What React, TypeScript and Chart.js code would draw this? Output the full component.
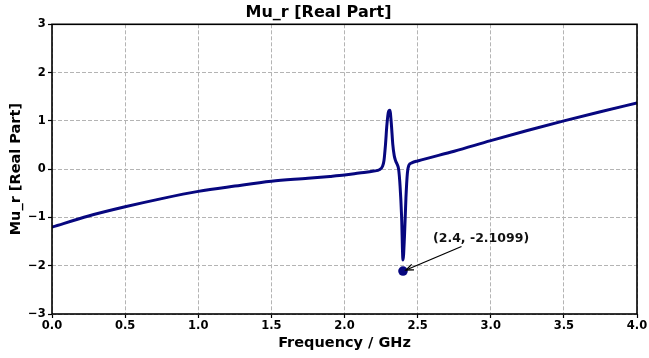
import { useEffect, useRef } from "react";
import { Chart, registerables } from "chart.js";

Chart.register(...registerables);

// Frequency samples (GHz) – denser around the resonance near 2.3–2.45 GHz
const freqGHz = [
  0, 0.25, 0.5, 0.75, 1.0, 1.25, 1.5, 1.75, 1.9, 2.0, 2.1, 2.2, 2.24, 2.26,
  2.27, 2.28, 2.29, 2.3, 2.31, 2.32, 2.33, 2.34, 2.35, 2.36, 2.37, 2.38, 2.39,
  2.4, 2.41, 2.42, 2.43, 2.44, 2.46, 2.5, 2.75, 3.0, 3.25, 3.5, 3.75, 4.0,
];

// Real part of the relative permeability at each frequency
const muReal = [
  -1.2, -0.97, -0.78, -0.61, -0.46, -0.35, -0.25, -0.19, -0.15, -0.12, -0.08,
  -0.04, -0.01, 0.06, 0.18, 0.5, 0.92, 1.18, 1.22, 0.95, 0.52, 0.28, 0.17, 0.1,
  0.0, -0.35, -0.95, -1.88, -1.4, -0.6, -0.08, 0.08, 0.13, 0.17, 0.37, 0.59,
  0.8, 1.0, 1.19, 1.37,
];

// Marked minimum
const peakFreq = 2.4;
const peakValue = -2.1099;
const peakLabel = "(2.4, -2.1099)";

const xTicks = [0, 0.5, 1.0, 1.5, 2.0, 2.5, 3.0, 3.5, 4.0];
const yTicks = [-3, -2, -1, 0, 1, 2, 3];

const FONT = "'DejaVu Sans', sans-serif";
const NAVY = "#07077f";
const GRID = "#b4b4b4";

const framePlugin = {
  id: "frame",
  afterDatasetsDraw(chart: any) {
    const { ctx, chartArea: a } = chart;
    ctx.save();
    ctx.strokeStyle = "#000";
    ctx.lineWidth = 1.6;
    ctx.strokeRect(a.left, a.top, a.right - a.left, a.bottom - a.top);
    ctx.restore();
  },
};

const annotatePlugin = {
  id: "annotate",
  afterDraw(chart: any) {
    const { ctx } = chart;
    const px = chart.scales.x.getPixelForValue(peakFreq);
    const py = chart.scales.y.getPixelForValue(peakValue);
    ctx.save();
    // label
    ctx.font = `bold 12.5px ${FONT}`;
    ctx.fillStyle = "#111";
    ctx.textAlign = "left";
    ctx.textBaseline = "middle";
    ctx.fillText(peakLabel, px + 30, py - 32.5);
    // arrow
    const sx = px + 58.5;
    const sy = py - 24.5;
    const tx = px + 3;
    const ty = py - 1;
    ctx.strokeStyle = "#000";
    ctx.lineWidth = 1.3;
    ctx.beginPath();
    ctx.moveTo(sx, sy);
    ctx.lineTo(tx, ty);
    ctx.stroke();
    const ang = Math.atan2(ty - sy, tx - sx);
    const hl = 8;
    ctx.beginPath();
    ctx.moveTo(tx + hl * Math.cos(ang + Math.PI - 0.38), ty + hl * Math.sin(ang + Math.PI - 0.38));
    ctx.lineTo(tx, ty);
    ctx.lineTo(tx + hl * Math.cos(ang + Math.PI + 0.38), ty + hl * Math.sin(ang + Math.PI + 0.38));
    ctx.stroke();
    ctx.restore();
  },
};

const gridOpts = {
  color: GRID,
  lineWidth: 1,
  drawTicks: true,
  tickLength: 4,
  tickColor: "#000",
  tickWidth: 1.2,
  tickBorderDash: [],
};

export default function App() {
  const canvasRef = useRef<HTMLCanvasElement | null>(null);

  useEffect(() => {
    const canvas = canvasRef.current;
    if (!canvas) return;
    const chart = new Chart(canvas, {
      type: "line",
      data: {
        datasets: [
          {
            data: freqGHz.map((f, i) => ({ x: f, y: muReal[i] })),
            borderColor: NAVY,
            borderWidth: 3,
            pointRadius: 0,
            cubicInterpolationMode: "monotone",
            borderJoinStyle: "round",
            borderCapStyle: "round",
            fill: false,
          },
          {
            type: "scatter",
            data: [{ x: peakFreq, y: peakValue }],
            backgroundColor: NAVY,
            borderWidth: 0,
            pointRadius: 4.8,
            clip: false,
          } as any,
        ],
      },
      options: {
        responsive: false,
        animation: false,
        events: [],
        layout: { padding: { left: 0, right: 12, top: 0, bottom: 0 } },
        plugins: {
          legend: { display: false },
          tooltip: { enabled: false },
          title: {
            display: true,
            text: "Mu_r [Real Part]",
            color: "#000",
            font: { family: FONT, size: 16, weight: "bold" },
            padding: { top: 3, bottom: 2.1 },
          },
        },
        scales: {
          x: {
            type: "linear",
            min: 0,
            max: 4,
            afterBuildTicks: (s: any) => {
              s.ticks = xTicks.map((v) => ({ value: v }));
            },
            afterFit: (s: any) => {
              s.height = 44;
            },
            ticks: {
              color: "#000",
              font: { family: FONT, size: 11.5, weight: "bold" },
              padding: 1.4,
              maxRotation: 0,
              autoSkip: false,
              callback: (v: any) => Number(v).toFixed(1),
            },
            grid: gridOpts,
            border: { display: false, dash: [4, 2] },
            title: {
              display: true,
              text: "Frequency / GHz",
              color: "#000",
              font: { family: FONT, size: 14.5, weight: "bold" },
              padding: { top: 0, bottom: 6 },
            },
          },
          y: {
            type: "linear",
            min: -3,
            max: 3,
            afterBuildTicks: (s: any) => {
              s.ticks = yTicks.map((v) => ({ value: v }));
            },
            afterFit: (s: any) => {
              s.width = 52;
            },
            ticks: {
              color: "#000",
              font: { family: FONT, size: 11.5, weight: "bold" },
              padding: 2.3,
              autoSkip: false,
              callback: (v: any) => (Number(v) < 0 ? "\u2212" + Math.abs(Number(v)) : String(v)),
            },
            grid: gridOpts,
            border: { display: false, dash: [4, 2] },
            title: {
              display: true,
              text: "Mu_r [Real Part]",
              color: "#000",
              font: { family: FONT, size: 14.5, weight: "bold" },
              padding: { top: 7.3, bottom: 0 },
            },
          },
        },
      } as any,
      plugins: [framePlugin, annotatePlugin],
    });
    return () => chart.destroy();
  }, []);

  return (
    <div
      style={{
        position: "fixed",
        left: 0,
        top: 0,
        width: 649,
        height: 358,
        background: "#fff",
      }}
    >
      <canvas ref={canvasRef} width={649} height={358} />
    </div>
  );
}
